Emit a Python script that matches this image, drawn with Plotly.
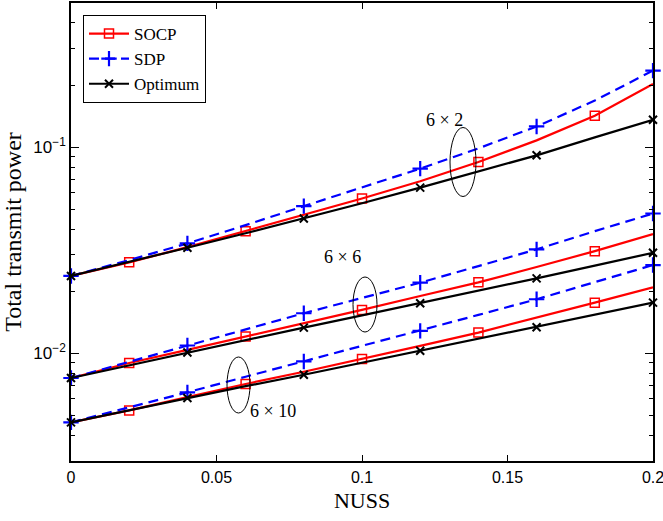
import plotly.graph_objects as go

# ---------------- data ----------------
nuss = [0.0, 0.02, 0.04, 0.06, 0.08, 0.10, 0.12, 0.14, 0.16, 0.18, 0.20]

# 6 x 2
socp_6x2 = [0.0237, 0.0276, 0.0327, 0.0391, 0.0467, 0.0563, 0.0683, 0.0846, 0.1078, 0.1419, 0.2026]
sdp_6x2 = [0.0237, 0.0283, 0.0341, 0.0418, 0.0517, 0.0638, 0.0786, 0.0986, 0.1259, 0.1682, 0.2350]
opt_6x2 = [0.0237, 0.0277, 0.0325, 0.0382, 0.0450, 0.0534, 0.0636, 0.0763, 0.0912, 0.1114, 0.1357]

# 6 x 6
socp_6x6 = [0.00758, 0.00896, 0.01038, 0.01204, 0.01398, 0.01622, 0.01895, 0.02208, 0.02618, 0.03128, 0.03781]
sdp_6x6 = [0.00758, 0.00909, 0.01090, 0.01305, 0.01563, 0.01854, 0.02198, 0.02647, 0.03188, 0.0391, 0.04761]
opt_6x6 = [0.00758, 0.00874, 0.01008, 0.01161, 0.01331, 0.01526, 0.01748, 0.02003, 0.02308, 0.02662, 0.03070]

# 6 x 10
socp_6x10 = [0.00462, 0.00528, 0.00612, 0.00709, 0.00813, 0.00937, 0.01086, 0.01259, 0.01483, 0.01759, 0.02088]
sdp_6x10 = [0.00462, 0.00544, 0.00646, 0.00769, 0.00912, 0.01086, 0.01284, 0.01534, 0.01827, 0.02215, 0.02677]
opt_6x10 = [0.00462, 0.00529, 0.00606, 0.00692, 0.00786, 0.00899, 0.01027, 0.01174, 0.01337, 0.01534, 0.01759]

group_labels = ["6 × 2", "6 × 6", "6 × 10"]
series_names = ["SOCP", "SDP", "Optimum"]

x_tick_vals = [0, 0.05, 0.1, 0.15, 0.2]
x_tick_text = ["0", "0.05", "0.1", "0.15", "0.2"]
y_tick_vals = [0.01, 0.1]
y_tick_text = ["10<sup>−2</sup>", "10<sup>−1</sup>"]
y_minor_vals = [0.003, 0.004, 0.005, 0.006, 0.007, 0.008, 0.009,
                0.02, 0.03, 0.04, 0.05, 0.06, 0.07, 0.08, 0.09,
                0.2, 0.3, 0.4, 0.5]

# ---------------- styling ----------------
RED = "#ff0000"
BLUE = "#0000ff"
BLACK = "#000000"
SERIF = "Liberation Serif, Times New Roman, serif"
SANS = "Liberation Sans, Arial, Helvetica, sans-serif"

styles = {
    "SOCP": dict(color=RED, dash="solid", symbol="square-open", size=9, mw=1.5, sel=slice(1, None, 2)),
    "SDP": dict(color=BLUE, dash="10px,6px", symbol="cross-thin-open", size=11, mw=2.2, sel=slice(0, None, 2)),
    "Optimum": dict(color=BLACK, dash="solid", symbol="x-thin-open", size=8, mw=2.0, sel=slice(0, None, 2)),
}

groups = [
    {"SOCP": socp_6x2, "SDP": sdp_6x2, "Optimum": opt_6x2},
    {"SOCP": socp_6x6, "SDP": sdp_6x6, "Optimum": opt_6x6},
    {"SOCP": socp_6x10, "SDP": sdp_6x10, "Optimum": opt_6x10},
]

fig = go.Figure()

for g in groups:
    for name in series_names:
        st = styles[name]
        ys = g[name]
        fig.add_trace(go.Scatter(
            x=nuss, y=ys, mode="lines",
            line=dict(color=st["color"], width=2.2, dash=st["dash"]),
            showlegend=False, hoverinfo="skip", cliponaxis=False))
        fig.add_trace(go.Scatter(
            x=nuss[st["sel"]], y=ys[st["sel"]], mode="markers",
            marker=dict(symbol=st["symbol"], size=st["size"], color=st["color"],
                        line=dict(color=st["color"], width=st["mw"])),
            showlegend=False, hoverinfo="skip", cliponaxis=False))

# legend-only traces
for name in series_names:
    st = styles[name]
    fig.add_trace(go.Scatter(
        x=[None], y=[None], mode="lines+markers", name=name,
        line=dict(color=st["color"], width=2.2, dash=st["dash"]),
        marker=dict(symbol=st["symbol"], size=st["size"], color=st["color"],
                    line=dict(color=st["color"], width=st["mw"]))))

# plot area in pixels: left 71, right 653, top 3, bottom 461
PL, PR, PT, PB = 71, 653, 3, 461


def px_x(p):
    return (p - PL) / (PR - PL)


def px_y(p):
    return (PB - p) / (PB - PT)


ellipses = [(450, 476, 127.5, 196.5), (353, 377, 277, 332), (227, 250, 357, 413)]
for (x0, x1, y0, y1) in ellipses:
    fig.add_shape(type="circle", xref="paper", yref="paper",
                  x0=px_x(x0), x1=px_x(x1), y0=px_y(y1), y1=px_y(y0),
                  line=dict(color=BLACK, width=1))

label_pos = [(444, 108), (342, 257), (273, 423)]
for lab, (lx, ly) in zip(group_labels, label_pos):
    fig.add_annotation(x=px_x(lx), y=px_y(ly), xref="paper", yref="paper",
                       text=lab, showarrow=False,
                       font=dict(family=SERIF, size=18, color=BLACK))

fig.update_layout(
    width=663, height=521,
    margin=dict(l=PL, r=663 - PR, t=PT, b=521 - PB, autoexpand=False),
    paper_bgcolor="white", plot_bgcolor="white",
    legend=dict(x=px_x(83), y=px_y(15), xanchor="left", yanchor="top",
                bgcolor="white", bordercolor=BLACK, borderwidth=1,
                font=dict(family=SERIF, size=17, color=BLACK),
                tracegroupgap=0, itemwidth=40),
    xaxis=dict(range=[0, 0.2], tickvals=x_tick_vals, ticktext=x_tick_text,
               ticks="inside", ticklen=6, tickwidth=1, tickcolor=BLACK,
               showline=True, linecolor=BLACK, linewidth=1.5, mirror="allticks",
               showgrid=False, zeroline=False, automargin=False,
               ticklabeloverflow="allow", ticklabelstandoff=1,
               tickfont=dict(family=SANS, size=16, color=BLACK),
               title=dict(text="NUSS", font=dict(family=SERIF, size=22, color=BLACK), standoff=8)),
    yaxis=dict(type="log", range=[-2.5229, -0.3010],
               tickvals=y_tick_vals, ticktext=y_tick_text,
               ticks="inside", ticklen=8, tickwidth=1, tickcolor=BLACK,
               minor=dict(tickvals=y_minor_vals, ticks="inside", ticklen=4, tickcolor=BLACK, showgrid=False),
               showline=True, linecolor=BLACK, linewidth=1.5, mirror="allticks",
               showgrid=False, zeroline=False, automargin=False,
               tickfont=dict(family=SANS, size=17, color=BLACK),
               title=dict(text="Total transmit power", font=dict(family=SERIF, size=24, color=BLACK), standoff=6)),
)

fig.write_html("out.html", config={"displayModeBar": False},
               post_script="document.body.style.margin='0';")
